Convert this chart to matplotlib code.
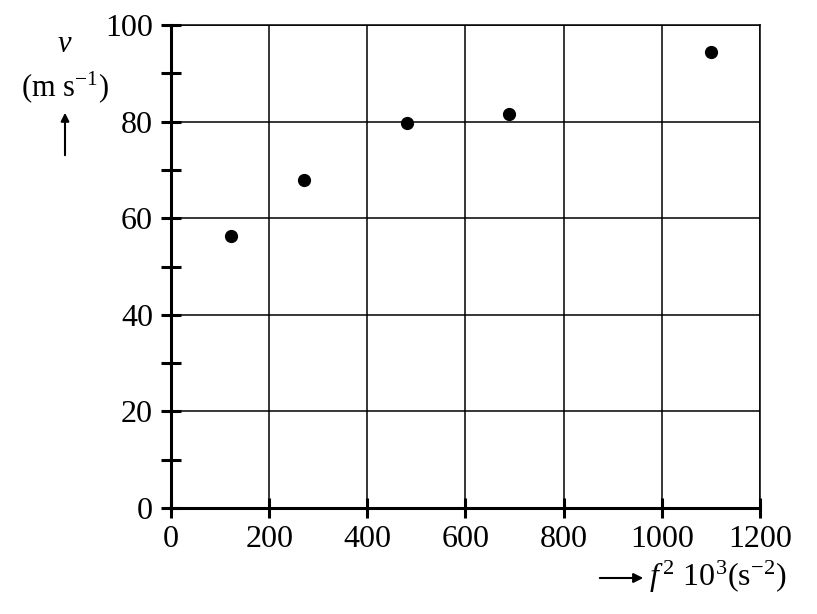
import matplotlib
matplotlib.use("Agg")
import matplotlib.pyplot as plt

# data
f2 = [122, 271, 481, 689, 1100]
v = [56.3, 67.9, 79.7, 81.6, 94.4]
x_ticks = [0, 200, 400, 600, 800, 1000, 1200]
y_ticks = [0, 20, 40, 60, 80, 100]

plt.rcParams['font.family'] = 'Liberation Serif'
plt.rcParams['mathtext.fontset'] = 'custom'
plt.rcParams['mathtext.rm'] = 'Liberation Serif'
plt.rcParams['mathtext.it'] = 'Liberation Serif:italic'

fig = plt.figure(figsize=(8.17, 6.14), dpi=100)
ax = fig.add_axes([0.2093, 0.1726, 0.7209, 0.7867])

ax.plot(f2, v, 'o', color='black', markersize=8.5, zorder=3)

ax.set_xlim(0, 1200)
ax.set_ylim(0, 100)
ax.set_xticks(x_ticks)
ax.set_yticks(y_ticks)
ax.set_yticks(range(10, 100, 20), minor=True)
ax.grid(True, color='black', linewidth=1.1)

ax.tick_params(axis='both', which='both', direction='inout', width=2.2,
               color='black', labelsize=23)
ax.tick_params(axis='y', which='both', length=14, pad=6)
ax.tick_params(axis='x', which='both', length=14, pad=5)

for s in ['left', 'bottom']:
    ax.spines[s].set_linewidth(2.2)
for s in ['top', 'right']:
    ax.spines[s].set_linewidth(1.1)

# y label with arrow
fig.text(65 / 817, 1 - 45 / 614, r'$v$', fontsize=22, ha='center', va='center')
fig.text(65 / 817, 1 - 87 / 614, r'(m s$^{\mathrm{-1}}$)', fontsize=22,
         ha='center', va='center')
fig.add_artist(matplotlib.patches.FancyArrowPatch(
    (65 / 817, 1 - 158 / 614), (65 / 817, 1 - 110 / 614),
    transform=fig.transFigure, arrowstyle='-|>', mutation_scale=12,
    color='black', linewidth=1.5))

# x label with arrow
fig.add_artist(matplotlib.patches.FancyArrowPatch(
    (597 / 817, 1 - 578 / 614), (646 / 817, 1 - 578 / 614),
    transform=fig.transFigure, arrowstyle='-|>', mutation_scale=14,
    color='black', linewidth=1.5))
fig.text(649 / 817, 1 - 577 / 614, r'$f^{\,\mathrm{2}}$ 10$^{\mathrm{3}}$(s$^{\mathrm{-2}}$)',
         fontsize=23, ha='left', va='center')

fig.savefig('out.png', dpi=100)
